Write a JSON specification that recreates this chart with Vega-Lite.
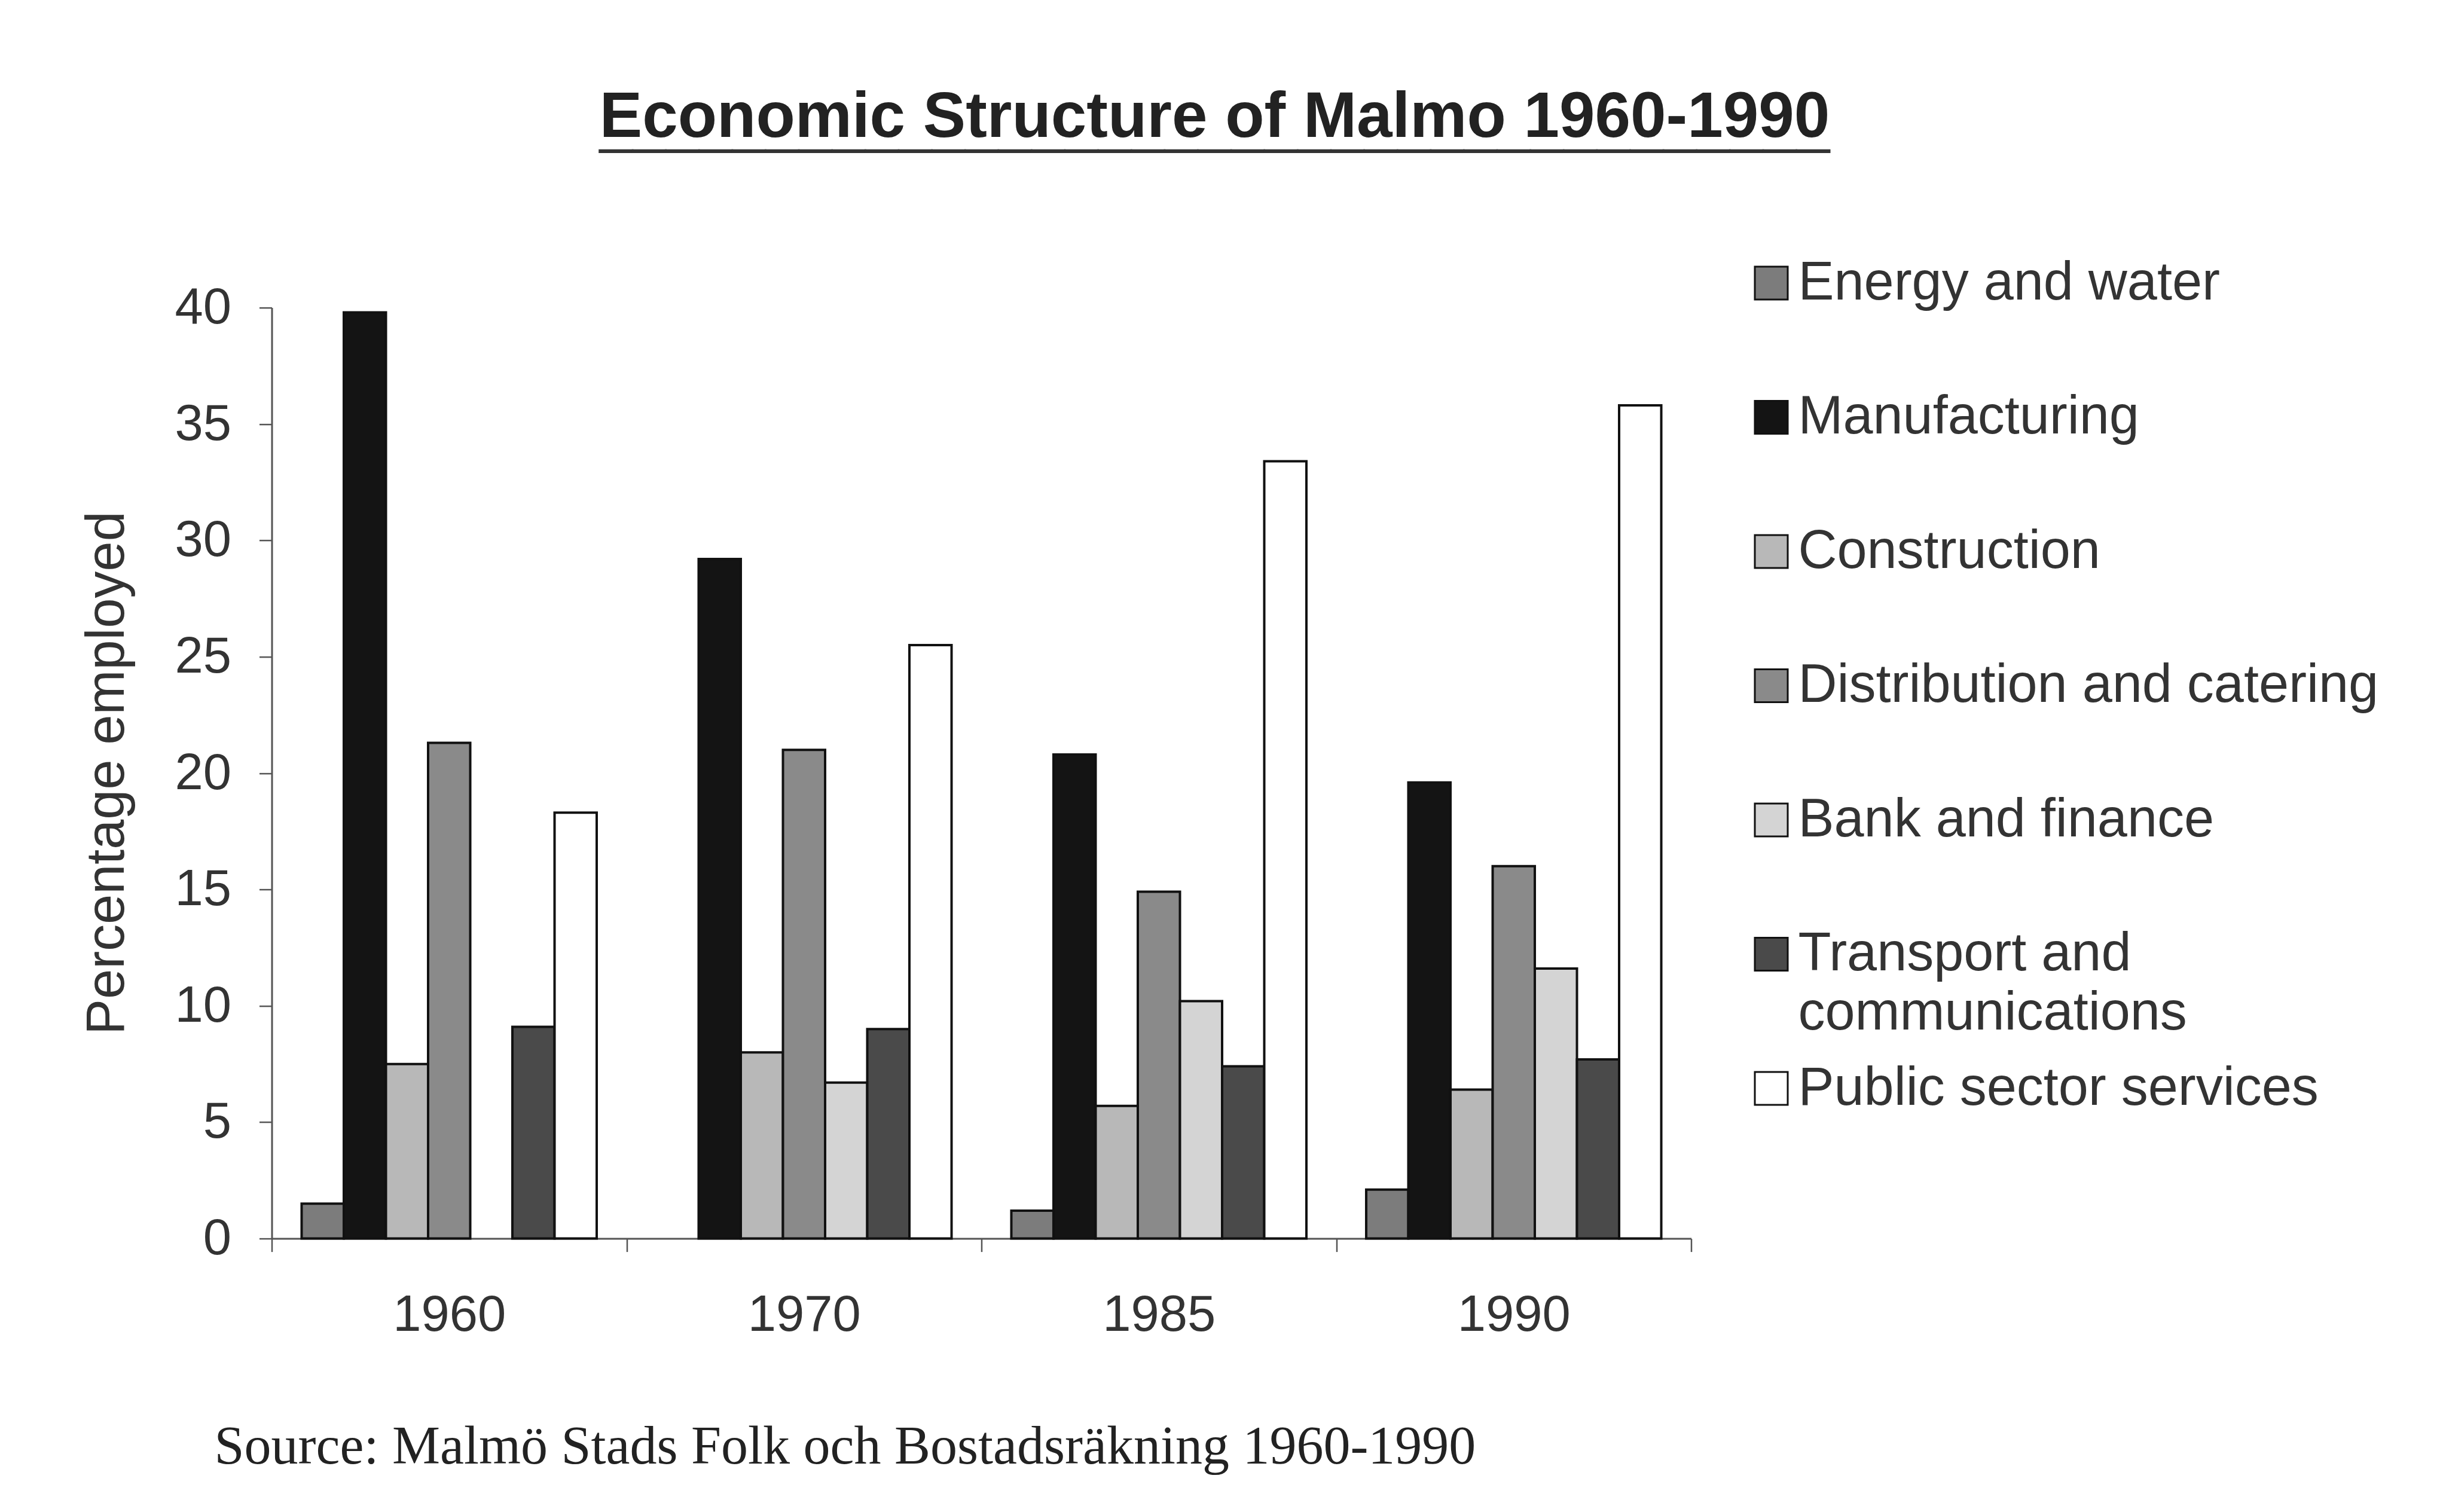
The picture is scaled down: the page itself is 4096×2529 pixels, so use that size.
{
  "$schema": "https://vega.github.io/schema/vega-lite/v6.json",
  "width": 2374,
  "height": 1557,
  "autosize": {"type": "none"},
  "padding": {"left": 454.5, "top": 514.6, "right": 1267.5, "bottom": 457.4},
  "background": "#ffffff",
  "title": {
    "text": "Economic Structure of Malmo 1960-1990",
    "subtitle": "_____________________________________",
    "anchor": "middle",
    "frame": "group",
    "dx": 390,
    "offset": 172,
    "font": "Liberation Sans",
    "fontSize": 107,
    "fontWeight": "bold",
    "color": "#222222",
    "subtitleFont": "Liberation Sans",
    "subtitleFontSize": 100,
    "subtitleFontWeight": "normal",
    "subtitleColor": "#333333",
    "subtitlePadding": -94
  },
  "data": {
    "values": [
      {"year": "1960", "sector": "Energy and water", "pct": 1.5},
      {"year": "1960", "sector": "Manufacturing", "pct": 39.8},
      {"year": "1960", "sector": "Construction", "pct": 7.5},
      {"year": "1960", "sector": "Distribution and catering", "pct": 21.3},
      {"year": "1960", "sector": "Transport and communications", "pct": 9.1},
      {"year": "1960", "sector": "Public sector services", "pct": 18.3},
      {"year": "1970", "sector": "Manufacturing", "pct": 29.2},
      {"year": "1970", "sector": "Construction", "pct": 8.0},
      {"year": "1970", "sector": "Distribution and catering", "pct": 21.0},
      {"year": "1970", "sector": "Bank and finance", "pct": 6.7},
      {"year": "1970", "sector": "Transport and communications", "pct": 9.0},
      {"year": "1970", "sector": "Public sector services", "pct": 25.5},
      {"year": "1985", "sector": "Energy and water", "pct": 1.2},
      {"year": "1985", "sector": "Manufacturing", "pct": 20.8},
      {"year": "1985", "sector": "Construction", "pct": 5.7},
      {"year": "1985", "sector": "Distribution and catering", "pct": 14.9},
      {"year": "1985", "sector": "Bank and finance", "pct": 10.2},
      {"year": "1985", "sector": "Transport and communications", "pct": 7.4},
      {"year": "1985", "sector": "Public sector services", "pct": 33.4},
      {"year": "1990", "sector": "Energy and water", "pct": 2.1},
      {"year": "1990", "sector": "Manufacturing", "pct": 19.6},
      {"year": "1990", "sector": "Construction", "pct": 6.4},
      {"year": "1990", "sector": "Distribution and catering", "pct": 16.0},
      {"year": "1990", "sector": "Bank and finance", "pct": 11.6},
      {"year": "1990", "sector": "Transport and communications", "pct": 7.7},
      {"year": "1990", "sector": "Public sector services", "pct": 35.8}
    ]
  },
  "mark": {"type": "bar", "stroke": "#111111", "strokeWidth": 4},
  "encoding": {
    "x": {
      "field": "year",
      "type": "nominal",
      "scale": {"paddingInner": 0, "paddingOuter": 0},
      "axis": {
        "tickBand": "extent",
        "labelAngle": 0,
        "labelLimit": 1000,
        "labelFont": "Liberation Sans",
        "labelFontSize": 85,
        "labelColor": "#333333",
        "labelBaseline": "alphabetic",
        "labelPadding": 132,
        "tickSize": 22,
        "tickWidth": 2.5,
        "tickColor": "#555555",
        "domainColor": "#555555",
        "domainWidth": 3,
        "grid": false,
        "title": "Source: Malmö Stads Folk och Bostadsräkning 1960-1990",
        "titleFont": "Liberation Serif",
        "titleFontSize": 90,
        "titleFontWeight": "normal",
        "titleColor": "#222222",
        "titleX": -96.5,
        "titleY": 376,
        "titleAlign": "left",
        "titleBaseline": "alphabetic",
        "titleLimit": 4000
      }
    },
    "xOffset": {
      "field": "sector",
      "type": "nominal",
      "sort": ["Energy and water", "Manufacturing", "Construction", "Distribution and catering", "Bank and finance", "Transport and communications", "Public sector services"],
      "scale": {"paddingInner": 0, "paddingOuter": 0.709}
    },
    "y": {
      "field": "pct",
      "type": "quantitative",
      "scale": {"domain": [0, 40], "nice": false},
      "axis": {
        "values": [0, 5, 10, 15, 20, 25, 30, 35, 40],
        "labelFont": "Liberation Sans",
        "labelFontSize": 85,
        "labelColor": "#333333",
        "labelPadding": 47,
        "tickSize": 21,
        "tickWidth": 2.5,
        "tickColor": "#555555",
        "domainColor": "#555555",
        "domainWidth": 3,
        "grid": false,
        "title": "Percentage employed",
        "titleFont": "Liberation Sans",
        "titleFontSize": 90,
        "titleFontWeight": "normal",
        "titleColor": "#333333",
        "titleX": -275,
        "titleY": 778,
        "titleAngle": -90,
        "titleAlign": "center",
        "titleBaseline": "middle"
      }
    },
    "fill": {
      "field": "sector",
      "type": "nominal",
      "scale": {
        "domain": ["Energy and water", "Manufacturing", "Construction", "Distribution and catering", "Bank and finance", "Transport and communications", "Public sector services"],
        "range": ["#7c7c7c", "#141414", "#b8b8b8", "#8a8a8a", "#d4d4d4", "#4a4a4a", "#ffffff"]
      },
      "legend": {
        "orient": "none",
        "legendX": 2463,
        "legendY": -86,
        "title": null,
        "padding": 0,
        "symbolType": "square",
        "symbolSize": 3025,
        "symbolStrokeColor": "#111111",
        "symbolStrokeWidth": 3,
        "symbolOpacity": 1,
        "labelFont": "Liberation Sans",
        "labelFontSize": 90,
        "labelColor": "#333333",
        "labelOffset": 0,
        "labelLimit": 3000,
        "rowPadding": 35.5,
        "gridAlign": "all",
        "labelExpr": "datum.label == 'Transport and communications' ? ['Transport and', 'communications'] : datum.label"
      }
    }
  },
  "config": {
    "view": {"stroke": null},
    "style": {"guide-label": {"lineHeight": 99}}
  }
}
